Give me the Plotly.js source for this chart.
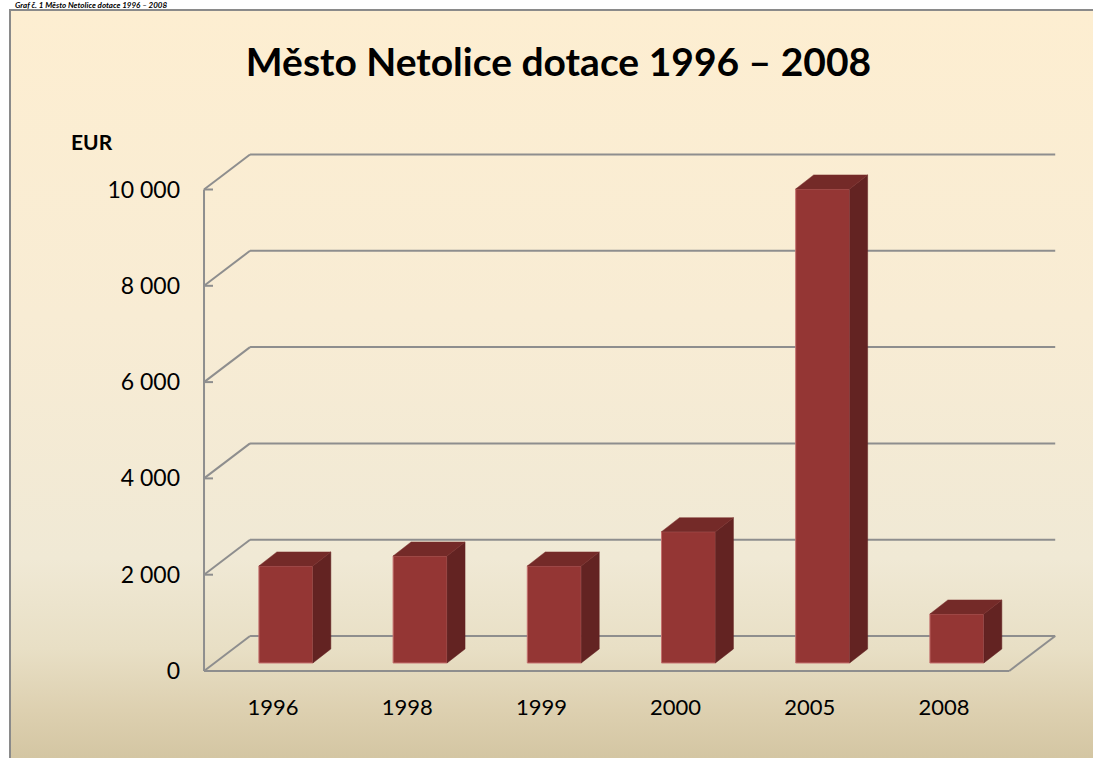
<!DOCTYPE html>
<html>
<head>
<meta charset="utf-8">
<script src="https://cdn.plot.ly/plotly-3.0.1.min.js"></script>
<style>
  html, body { margin:0; padding:0; width:1093px; height:758px; overflow:hidden; background:#ffffff; }
  #bg { position:absolute; left:9px; top:9px; width:1100px; height:760px;
        border-left:2px solid #8a8a8a; border-top:2px solid #8a8a8a;
        background: linear-gradient(to bottom, #fdeed1 0%, #f8ecd4 40%, #f0e9d5 72%, #e8dfc5 84%, #ddd0b0 92%, #d1c39f 100%); }
  #chart { position:absolute; left:0; top:0; width:1093px; height:758px; }
</style>
</head>
<body>
<div id="bg"></div>
<div id="chart"></div>
<script>
(function () {
// ---- data ----
const years = ['1996', '1998', '1999', '2000', '2005', '2008'];
const dotace = [2015, 2222, 2015, 2727, 9845, 1018];
const yTickVals = [0, 2000, 4000, 6000, 8000, 10000];
const yTickText = ['0', '2 000', '4 000', '6 000', '8 000', '10 000'];
const chartTitle = 'Město Netolice dotace 1996 – 2008';
const captionText = 'Graf č. 1 Město Netolice dotace 1996 – 2008';
const unitLabel = 'EUR';

// ---- geometry (oblique 3D look) ----
const X0 = -0.514;
const XF = X0 + years.length;
const DX = 0.3428, DY = 727;
const XE = XF + DX;
const TICKLEN = 0.067;
const FRONT_D = 0.229;
const BAR_L = -0.105, BAR_W = 0.402;
const BDX = 0.134, BDY = 291;

const baseY = FRONT_D * DY;
const idx = years.map((_, i) => i);

const gridCol = '#8e8e8e';
const shapes = [];
function seg(x0, y0, x1, y1) {
  shapes.push({type:'line', xref:'x', yref:'y', x0, y0, x1, y1, layer:'below',
               line:{color:gridCol, width:2}});
}
yTickVals.forEach(t => {
  seg(X0, t, X0 + DX, t + DY);
  seg(X0 + DX, t + DY, XE, t + DY);
  seg(X0, t, X0 + TICKLEN, t);
});
seg(X0, 0, XF, 0);
seg(XF, 0, XE, DY);
seg(X0, 0, X0, yTickVals[yTickVals.length - 1]);

const frontFace = {
  type:'bar', x: idx.map(i => i + BAR_L + BAR_W / 2), y: dotace, base: baseY,
  width: BAR_W, marker:{color:'#943634', line:{color:'#c4706e', width:1}},
  hoverinfo:'skip', showlegend:false
};
const sx = [], sy = [], tx = [], ty = [];
idx.forEach(i => {
  const L = i + BAR_L, R = L + BAR_W, v = dotace[i];
  sx.push(R, R + BDX, R + BDX, R, R, null);
  sy.push(baseY, baseY + BDY, baseY + BDY + v, baseY + v, baseY, null);
  tx.push(L, R, R + BDX, L + BDX, L, null);
  ty.push(baseY + v, baseY + v, baseY + v + BDY, baseY + v + BDY, baseY + v, null);
});
const sideFace = {type:'scatter', mode:'lines', x:sx, y:sy, fill:'toself', fillcolor:'#632322',
  line:{color:'#632322', width:0.5}, hoverinfo:'skip', showlegend:false};
const topFace = {type:'scatter', mode:'lines', x:tx, y:ty, fill:'toself', fillcolor:'#742a28',
  line:{color:'#7a2e2c', width:0.5}, hoverinfo:'skip', showlegend:false};

const layout = {
  width:1093, height:758,
  margin:{l:190, r:23, t:140, b:68},
  paper_bgcolor:'rgba(0,0,0,0)', plot_bgcolor:'rgba(0,0,0,0)',
  font:{family:'Lato, "Open Sans", sans-serif', color:'#000000'},
  showlegend:false,
  title:{text:'<b>' + chartTitle + '</b>', font:{family:'Lato, sans-serif', size:39, color:'#000'},
         x:0.511, xanchor:'center', y:1 - 62/758, yanchor:'middle', xref:'container', yref:'container'},
  xaxis:{range:[-0.6185, 5.939], tickvals:idx, ticktext:years, showgrid:false, zeroline:false,
         showline:false, ticks:'', tickfont:{size:22}, ticklabelstandoff:2, fixedrange:true},
  yaxis:{range:[-394.6, 11028], tickvals:yTickVals, ticktext:yTickText, showgrid:false, zeroline:false,
         showline:false, ticks:'', tickfont:{size:23}, ticklabelstandoff:9, fixedrange:true},
  shapes: shapes,
  annotations:[
    {text:'<b>' + unitLabel + '</b>', xref:'paper', yref:'paper', x:(92-190)/880, y:(690-141)/550,
     xanchor:'center', yanchor:'middle', showarrow:false, font:{size:21}},
    {text:'<b><i>' + captionText + '</i></b>', xref:'paper', yref:'paper', x:(14-190)/880, y:(690+1)/550,
     xanchor:'left', yanchor:'top', showarrow:false, borderpad:0, font:{size:8}}
  ]
};

Plotly.newPlot('chart', [frontFace, sideFace, topFace], layout, {staticPlot:true, displayModeBar:false});
})();
</script>
</body>
</html>
